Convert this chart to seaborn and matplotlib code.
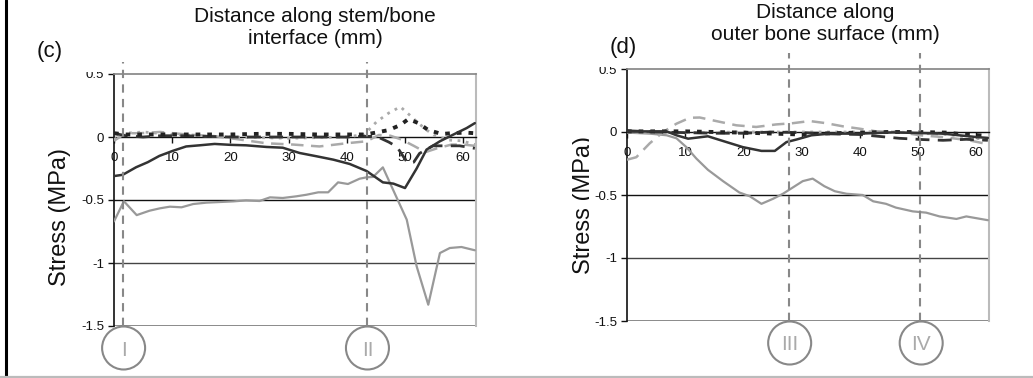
import numpy as np
import pandas as pd
import seaborn as sns
import matplotlib
matplotlib.use("Agg")
import matplotlib.pyplot as plt
from matplotlib.patches import Ellipse
from matplotlib.lines import Line2D
from matplotlib.transforms import Bbox, blended_transform_factory

# ---------------- data: panel (c) stem/bone interface ----------------
c_dark_solid_x = [0, 1.5, 3.8, 5.8, 7.8, 10.1, 12.4, 14.7, 17.3, 19.9, 22.7, 26.2, 29.0, 31.9, 34.8,
                  37.7, 40.5, 43.4, 46.2, 48.0, 50.0, 52.0, 53.7, 56.0, 58.3, 60.6, 62.0]
c_dark_solid_y = [-0.31, -0.30, -0.24, -0.20, -0.15, -0.11, -0.075, -0.066, -0.055, -0.062, -0.066,
                  -0.079, -0.085, -0.127, -0.153, -0.18, -0.214, -0.27, -0.36, -0.37, -0.405, -0.25,
                  -0.10, -0.034, 0.019, 0.071, 0.11]

c_gray_solid_x = [0, 1.7, 3.9, 6.1, 7.9, 9.6, 11.6, 13.6, 15.9, 18.2, 20.5, 22.7, 25.0, 26.8, 29.0,
                  31.3, 33.1, 35.1, 36.8, 38.5, 40.2, 42.2, 43.4, 44.5, 46.2, 48.2, 50.3, 52.0, 54.0,
                  56.0, 57.7, 59.7, 62.0]
c_gray_solid_y = [-0.67, -0.51, -0.62, -0.585, -0.566, -0.553, -0.558, -0.532, -0.521, -0.516, -0.511,
                  -0.503, -0.508, -0.479, -0.484, -0.471, -0.458, -0.439, -0.439, -0.36, -0.373, -0.331,
                  -0.32, -0.317, -0.241, -0.444, -0.656, -1.026, -1.331, -0.921, -0.881, -0.873, -0.899]

c_dark_dot_x = [0, 2, 5, 10, 15, 20, 25, 30, 35, 40, 43.2, 45, 47.2, 49.2, 50.6, 52.3, 54, 56.3, 58, 60.3, 62]
c_dark_dot_y = [0.03, 0.02, 0.02, 0.02, 0.02, 0.02, 0.025, 0.025, 0.02, 0.02, 0.02, 0.035, 0.055, 0.095,
                0.143, 0.11, 0.055, 0.024, 0.03, 0.035, 0.03]

c_gray_dot_x = [0, 2, 5, 10, 20, 30, 40, 43, 45.1, 47.2, 49.2, 50.9, 52.3, 53.7, 54.9, 57.4, 59.7, 62]
c_gray_dot_y = [-0.02, 0.03, 0.04, 0.02, 0.0, -0.01, 0.0, 0.02, 0.12, 0.19, 0.24, 0.17, 0.11, 0.056,
                0.016, -0.024, -0.03, -0.06]

c_gray_dash_x = [0, 2, 4.4, 7.9, 12.5, 17.6, 21.6, 26.2, 30.8, 35.3, 39.9, 43.4, 45.5, 47.5, 49.4,
                 51.5, 53.5, 55.5, 58, 60, 62]
c_gray_dash_y = [-0.03, 0.03, 0.03, 0.04, 0.02, 0.005, -0.02, -0.05, -0.06, -0.075, -0.05, -0.034,
                 0.016, 0.01, -0.02, -0.07, -0.12, -0.09, -0.06, -0.06, -0.07]

c_dark_dash_x = [0, 2, 5, 8, 12, 16, 20, 25, 30, 35, 40, 43, 45.1, 47.2, 48.6, 50.5, 51.5, 52.5,
                 54.8, 57.1, 59.4, 62]
c_dark_dash_y = [0.03, 0.01, 0.0, 0.01, 0.01, 0.005, 0.0, 0.0, 0.0, 0.0, 0.0, 0.005, 0.005, -0.04,
                 -0.077, -0.21, -0.20, -0.13, -0.07, -0.07, -0.07, -0.09]

# ---------------- data: panel (d) outer bone surface ----------------
d_gray_solid_x = [0, 3.9, 6.8, 8.5, 10.2, 11.9, 13.9, 16.5, 19.3, 21.1, 23.1, 25.1, 26.8, 28.5, 30.2,
                  31.9, 33.9, 35.7, 37.7, 40.5, 42.3, 44.5, 46.2, 49.1, 51.4, 53.7, 56.6, 58.3, 62]
d_gray_solid_y = [-0.005, -0.013, -0.026, -0.05, -0.12, -0.21, -0.30, -0.39, -0.48, -0.51, -0.57,
                  -0.53, -0.49, -0.44, -0.39, -0.37, -0.43, -0.47, -0.49, -0.50, -0.55, -0.57, -0.60,
                  -0.63, -0.64, -0.67, -0.69, -0.67, -0.70]

d_dark_solid_x = [0, 6.8, 8.5, 10.5, 13.9, 17.1, 19.9, 23.1, 25.4, 27.4, 29.1, 31.7, 34.8, 40, 45.7,
                  54.3, 60, 62]
d_dark_solid_y = [0.005, 0.005, -0.026, -0.053, -0.034, -0.08, -0.12, -0.15, -0.15, -0.08, -0.06,
                  -0.026, -0.013, -0.013, -0.003, -0.013, -0.04, -0.047]

d_gray_dash_x = [0, 1.6, 3.9, 6.2, 8.5, 10.8, 12.5, 15.3, 18.8, 22.2, 25.6, 28.5, 31.4, 34.2, 37.1,
                 40, 42.8, 46.8, 50.3, 54.3, 58.8, 62]
d_gray_dash_y = [-0.22, -0.20, -0.09, 0.0, 0.066, 0.113, 0.115, 0.087, 0.053, 0.04, 0.06, 0.07, 0.087,
                 0.07, 0.045, 0.026, 0.005, 0.0, -0.026, -0.04, -0.066, -0.097]

d_dark_dash_x = [0, 5, 10, 15, 20, 25, 30, 35, 40, 44.5, 46.8, 50.8, 54.3, 58.3, 62]
d_dark_dash_y = [0.01, 0.0, -0.005, -0.01, -0.01, 0.0, -0.005, -0.015, -0.02, -0.04, -0.05, -0.06,
                 -0.066, -0.058, -0.066]

d_dark_dot_x = [0, 10, 20, 30, 35, 40, 45, 50, 55, 58, 62]
d_dark_dot_y = [0.005, 0.005, -0.005, -0.02, -0.01, -0.005, 0.0, 0.0, -0.005, -0.02, -0.03]

d_gray_dot_x = [0, 10, 20, 30, 40, 45, 50, 55, 60, 62]
d_gray_dot_y = [0.0, -0.005, 0.0, 0.0, 0.0, 0.005, -0.01, -0.02, -0.05, -0.06]

# markers / labels
c_marks = [1.5, 43.4]
c_mark_labels = ["I", "II"]
d_marks = [27.8, 50.4]
d_mark_labels = ["III", "IV"]

x_ticks = [0, 10, 20, 30, 40, 50, 60]
y_ticks = [-1.5, -1.0, -0.5, 0.0, 0.5]
y_tick_labels = ["-1.5", "-1", "-0.5", "0", "0.5"]

c_title = "Distance along stem/bone\ninterface (mm)"
d_title = "Distance along\nouter bone surface (mm)"
y_label = "Stress (MPa)"

# ---------------- styling ----------------
sns.set_theme(style="white")
plt.rcParams['font.family'] = ['Liberation Sans', 'DejaVu Sans']

W, H = 1033, 378
fig = plt.figure(figsize=(W / 100, H / 100), dpi=100)

DARK = "#333333"
GRAY = "#999999"
LGRAY = "#aaaaaa"

styles = {
    "gray_solid": dict(color=GRAY, lw=1.6, ls="-"),
    "dark_solid": dict(color=DARK, lw=1.8, ls="-"),
    "gray_dash": dict(color=LGRAY, lw=1.8, ls=(0, (5, 3))),
    "dark_dash": dict(color=DARK, lw=2.0, ls=(0, (5, 3))),
    "gray_dot": dict(color=LGRAY, lw=2.0, ls=(0, (1, 2))),
    "dark_dot": dict(color="#222222", lw=2.8, ls=(0, (1.2, 1.8))),
}


def make_panel(rect, series, marks, mark_labels, mark_top):
    ax = fig.add_axes(rect)
    for key, (xs, ys) in series.items():
        st = styles[key]
        df = pd.DataFrame({"x": xs, "y": ys})
        sns.lineplot(data=df, x="x", y="y", ax=ax, sort=False, estimator=None,
                     color=st["color"], linewidth=st["lw"], linestyle=st["ls"],
                     dash_capstyle="butt", zorder=3)
    ax.set_xlim(0, 62.2)
    ax.set_ylim(-1.5, 0.5)
    ax.set_xlabel("")
    ax.set_ylabel("")
    # Excel-like axes
    ax.spines["bottom"].set_position(("data", 0))
    ax.spines["bottom"].set_color("#111111")
    ax.spines["bottom"].set_linewidth(1.0)
    ax.spines["left"].set_color("#111111")
    ax.spines["left"].set_linewidth(1.2)
    ax.spines["top"].set_color("#888888")
    ax.spines["right"].set_color("#bbbbbb")
    ax.spines["right"].set_linewidth(1.5)
    ax.axhline(-1.5, color="#777777", lw=1.2, zorder=2)
    ax.axhline(-0.5, color="#111111", lw=1.0, zorder=2)
    ax.axhline(-1.0, color="#444444", lw=1.0, zorder=2)
    ax.set_xticks(x_ticks)
    ax.set_xticklabels([str(t) for t in x_ticks])
    ax.set_yticks(y_ticks)
    ax.set_yticklabels(y_tick_labels)
    ax.tick_params(axis="both", which="major", direction="out", length=4, width=1,
                   labelsize=9.5, colors="#111111", pad=3, bottom=True, left=True)
    ax.tick_params(axis="x", pad=7)
    # vertical reference lines and circled numerals
    tr = blended_transform_factory(ax.transData, ax.transAxes)
    pxmm = rect[2] * W / 62.2
    axh = rect[3] * H
    for xm, lab in zip(marks, mark_labels):
        ax.plot([xm, xm], [0, mark_top], transform=tr, color="#888888", lw=1.5,
                ls=(0, (4, 3)), clip_on=False, zorder=4)
        ell = Ellipse((xm + 0.15, -22 / axh), width=43 / pxmm, height=43 / axh, transform=tr,
                      fill=False, edgecolor="#888888", lw=1.5, clip_on=False)
        ax.add_patch(ell)
        ax.text(xm + 0.15, -24 / axh, lab, transform=tr, ha="center", va="center",
                fontsize=15, color="#aaaaaa", clip_on=False)
    return ax


axc = make_panel([114 / W, 1 - 326 / H, 362 / W, 252 / H],
                 {"gray_solid": (c_gray_solid_x, c_gray_solid_y),
                  "gray_dash": (c_gray_dash_x, c_gray_dash_y),
                  "gray_dot": (c_gray_dot_x, c_gray_dot_y),
                  "dark_dash": (c_dark_dash_x, c_dark_dash_y),
                  "dark_dot": (c_dark_dot_x, c_dark_dot_y),
                  "dark_solid": (c_dark_solid_x, c_dark_solid_y)},
                 c_marks, c_mark_labels, 1 + 12 / 252)

axd = make_panel([627 / W, 1 - 321 / H, 362 / W, 252 / H],
                 {"gray_solid": (d_gray_solid_x, d_gray_solid_y),
                  "gray_dash": (d_gray_dash_x, d_gray_dash_y),
                  "gray_dot": (d_gray_dot_x, d_gray_dot_y),
                  "dark_dash": (d_dark_dash_x, d_dark_dash_y),
                  "dark_dot": (d_dark_dot_x, d_dark_dot_y),
                  "dark_solid": (d_dark_solid_x, d_dark_solid_y)},
                 d_marks, d_mark_labels, 1 + 16 / 252)

# clip the top tick label (as in the original, partly cut)
clip_c = Bbox([[0, 0], [520, H - 71.5]])
clip_d = Bbox([[520, 0], [W, H - 66.5]])
for ax, cb in ((axc, clip_c), (axd, clip_d)):
    for lbl in ax.get_yticklabels():
        lbl.set_clip_on(True)
        lbl.set_clip_box(cb)

# titles, panel letters, y labels
fig.text(315 / W, 1 - 27 / H, c_title, ha="center", va="center", fontsize=15,
         linespacing=1.2, color="#111111")
fig.text(825 / W, 1 - 24 / H, d_title, ha="center", va="center", fontsize=15,
         linespacing=1.2, color="#111111")
fig.text(50 / W, 1 - 52 / H, "(c)", ha="center", va="center", fontsize=16, color="#111111")
fig.text(623 / W, 1 - 48 / H, "(d)", ha="center", va="center", fontsize=16, color="#111111")
fig.text(60 / W, 1 - 217 / H, y_label, ha="center", va="center", rotation=90, fontsize=17,
         color="#111111")
yl = fig.text(584 / W, 1 - 205 / H, y_label, ha="center", va="center", rotation=90, fontsize=17,
              color="#111111")
yl.set_clip_on(True)
yl.set_clip_box(Bbox([[520, 0], [589, H]]))

# image frame lines
fig.add_artist(Line2D([6 / W, 6 / W], [1.5 / H, 1], color="#000000", lw=2.2))
fig.add_artist(Line2D([0, 1], [1.2 / H, 1.2 / H], color="#bbbbbb", lw=1.6))

fig.savefig("out.png", dpi=100)
